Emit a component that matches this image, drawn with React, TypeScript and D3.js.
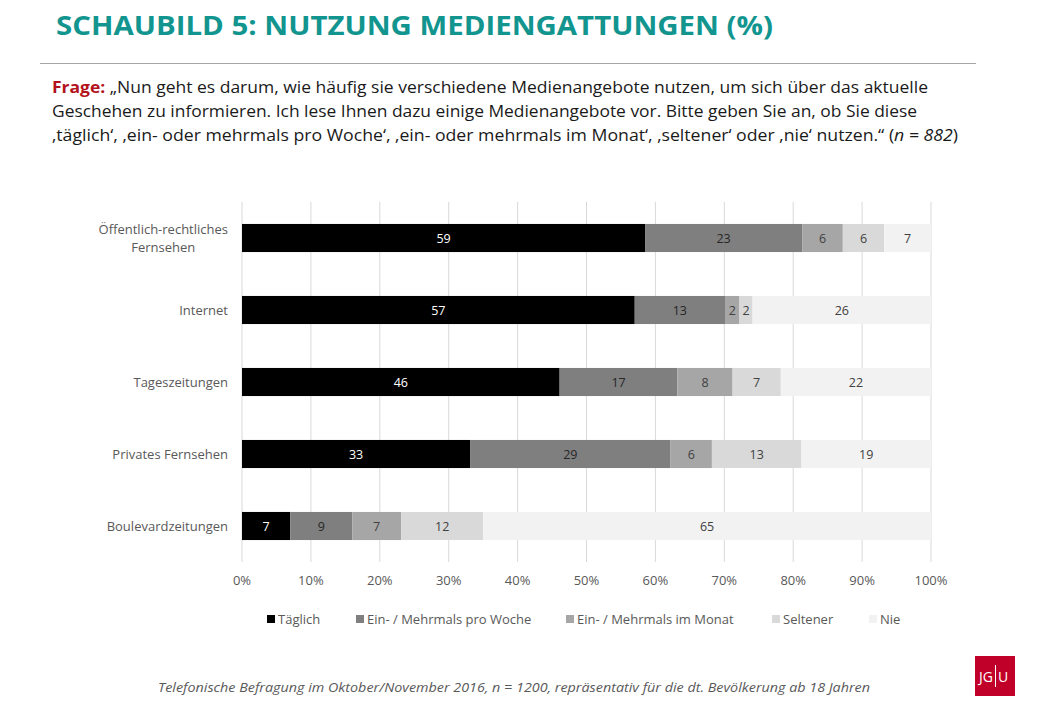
import React, { useEffect, useRef } from "react";
import * as d3 from "d3";

const title = "SCHAUBILD 5: NUTZUNG MEDIENGATTUNGEN (%)";
const questionLabel = "Frage:";
const questionLines = [
  " „Nun geht es darum, wie häufig sie verschiedene Medienangebote nutzen, um sich über das aktuelle",
  "Geschehen zu informieren. Ich lese Ihnen dazu einige Medienangebote vor. Bitte geben Sie an, ob Sie diese",
  "‚täglich‘, ‚ein- oder mehrmals pro Woche‘, ‚ein- oder mehrmals im Monat‘, ‚seltener‘ oder ‚nie‘ nutzen.“ (",
];
const footer =
  "Telefonische Befragung im Oktober/November 2016, n = 1200, repräsentativ  für die dt. Bevölkerung ab 18 Jahren";

const categories = [
  ["Öffentlich-rechtliches", "Fernsehen"],
  ["Internet"],
  ["Tageszeitungen"],
  ["Privates Fernsehen"],
  ["Boulevardzeitungen"],
];
const seriesNames = [
  "Täglich",
  "Ein- / Mehrmals pro Woche",
  "Ein- / Mehrmals im Monat",
  "Seltener",
  "Nie",
];
const taeglich = [58.5, 57.0, 46.1, 33.1, 7.0];
const woche = [22.8, 13.1, 17.1, 29.1, 9.0];
const monat = [5.9, 2.1, 8.0, 6.0, 7.1];
const seltener = [6.0, 1.9, 7.0, 13.0, 11.9];
const nie = [6.8, 25.9, 21.8, 18.8, 65.0];
const colors = ["#000000", "#7f7f7f", "#a6a6a6", "#d9d9d9", "#f2f2f2"];
const labelColors = ["#ffffff", "#262626", "#404040", "#404040", "#404040"];
const xTicks = [0, 10, 20, 30, 40, 50, 60, 70, 80, 90, 100];

const FONT = "'Open Sans', 'Noto Sans', sans-serif";

export default function App() {
  const ref = useRef<SVGSVGElement | null>(null);

  useEffect(() => {
    const svg = d3.select(ref.current);
    svg.selectAll("*").remove();

    // header
    svg
      .append("text")
      .attr("x", 56)
      .attr("y", 35)
      .attr("font-family", FONT)
      .attr("font-weight", 700)
      .attr("font-size", 26)
      .attr("fill", "#12958f")
      .attr("textLength", 717)
      .attr("lengthAdjust", "spacingAndGlyphs")
      .text(title);
    svg
      .append("line")
      .attr("x1", 40)
      .attr("x2", 976)
      .attr("y1", 63.5)
      .attr("y2", 63.5)
      .attr("stroke", "#a6a6a6")
      .attr("stroke-width", 1);

    // question
    const qy = [93, 117, 141];
    const qEnd = [928, 917, 958];
    questionLines.forEach((line, i) => {
      const t = svg
        .append("text")
        .attr("x", 52)
        .attr("y", qy[i])
        .attr("font-family", FONT)
        .attr("font-size", 16)
        .attr("fill", "#1a1a1a")
        .attr("textLength", qEnd[i] - 52)
        .attr("lengthAdjust", "spacingAndGlyphs");
      if (i === 0) {
        t.append("tspan").attr("font-weight", 700).attr("fill", "#b3121b").text(questionLabel);
      }
      t.append("tspan").text(line);
      if (i === 2) {
        t.append("tspan").attr("font-style", "italic").text("n = 882");
        t.append("tspan").text(")");
      }
    });

    const series = [taeglich, woche, monat, seltener, nie];
    const x = d3.scaleLinear().domain([0, 100]).range([242, 931]);
    const y = d3
      .scaleBand()
      .domain(categories.map((c) => c.join(" ")))
      .range([202, 562])
      .paddingInner(0.61)
      .paddingOuter(0.305);

    // gridlines
    svg
      .append("g")
      .selectAll("line")
      .data(xTicks)
      .join("line")
      .attr("x1", (d) => x(d))
      .attr("x2", (d) => x(d))
      .attr("y1", 202)
      .attr("y2", 562)
      .attr("stroke", "#d9d9d9")
      .attr("stroke-width", 1);

    // bars
    categories.forEach((c, i) => {
      const key = c.join(" ");
      let acc = 0;
      series.forEach((s, j) => {
        const v = s[i];
        const x0 = x(acc);
        const x1 = x(acc + v);
        acc += v;
        svg
          .append("rect")
          .attr("x", x0)
          .attr("y", y(key)!)
          .attr("width", x1 - x0)
          .attr("height", y.bandwidth())
          .attr("fill", colors[j]);
        svg
          .append("text")
          .attr("x", (x0 + x1) / 2)
          .attr("y", y(key)! + y.bandwidth() / 2 + 4.5)
          .attr("text-anchor", "middle")
          .attr("font-family", FONT)
          .attr("font-size", 12.5)
          .attr("fill", labelColors[j])
          .text(Math.round(v));
      });

      // category label
      const cy = y(key)! + y.bandwidth() / 2;
      const g = svg.append("g");
      const n = c.length;
      const texts = c.map((line, k) =>
        g
          .append("text")
          .attr("x", 228)
          .attr("y", cy + 4.5 + (k - (n - 1) / 2) * 18)
          .attr("text-anchor", "end")
          .attr("font-family", FONT)
          .attr("font-size", 13)
          .attr("fill", "#595959")
          .text(line)
      );
      if (n > 1) {
        const widths = texts.map((t) => (t.node() as SVGTextElement).getComputedTextLength());
        const maxW = Math.max(...widths);
        texts.forEach((t) => t.attr("x", 228 - maxW / 2).attr("text-anchor", "middle"));
      }
    });

    // x tick labels
    svg
      .append("g")
      .selectAll("text")
      .data(xTicks)
      .join("text")
      .attr("x", (d) => x(d))
      .attr("y", 585)
      .attr("text-anchor", "middle")
      .attr("font-family", FONT)
      .attr("font-size", 13)
      .attr("fill", "#595959")
      .text((d) => `${d}%`);

    // legend
    const legendX = [267, 356, 566, 772, 869];
    seriesNames.forEach((name, j) => {
      svg
        .append("rect")
        .attr("x", legendX[j])
        .attr("y", 615)
        .attr("width", 8)
        .attr("height", 8)
        .attr("fill", colors[j]);
      svg
        .append("text")
        .attr("x", legendX[j] + 11)
        .attr("y", 624)
        .attr("font-family", FONT)
        .attr("font-size", 13)
        .attr("fill", "#595959")
        .text(name);
    });

    // footer
    svg
      .append("text")
      .attr("x", 158)
      .attr("y", 692)
      .attr("font-family", FONT)
      .attr("font-style", "italic")
      .attr("font-size", 13)
      .attr("fill", "#595959")
      .attr("textLength", 712)
      .attr("lengthAdjust", "spacingAndGlyphs")
      .text(footer);

    // logo
    const logo = svg.append("g");
    logo
      .append("rect")
      .attr("x", 975)
      .attr("y", 656)
      .attr("width", 40)
      .attr("height", 40)
      .attr("fill", "#c1002a");
    logo
      .append("text")
      .attr("x", 986)
      .attr("y", 682)
      .attr("text-anchor", "middle")
      .attr("font-family", FONT)
      .attr("font-size", 14)
      .attr("fill", "#ffffff")
      .text("JG");
    logo
      .append("line")
      .attr("x1", 995.5)
      .attr("x2", 995.5)
      .attr("y1", 665)
      .attr("y2", 687)
      .attr("stroke", "#ffffff")
      .attr("stroke-width", 1);
    logo
      .append("text")
      .attr("x", 1003)
      .attr("y", 682)
      .attr("text-anchor", "middle")
      .attr("font-family", FONT)
      .attr("font-size", 14)
      .attr("fill", "#ffffff")
      .text("U");
  }, []);

  return (
    <svg
      ref={ref}
      width={1040}
      height={720}
      style={{ position: "absolute", left: 0, top: 0, background: "#fff" }}
    />
  );
}
